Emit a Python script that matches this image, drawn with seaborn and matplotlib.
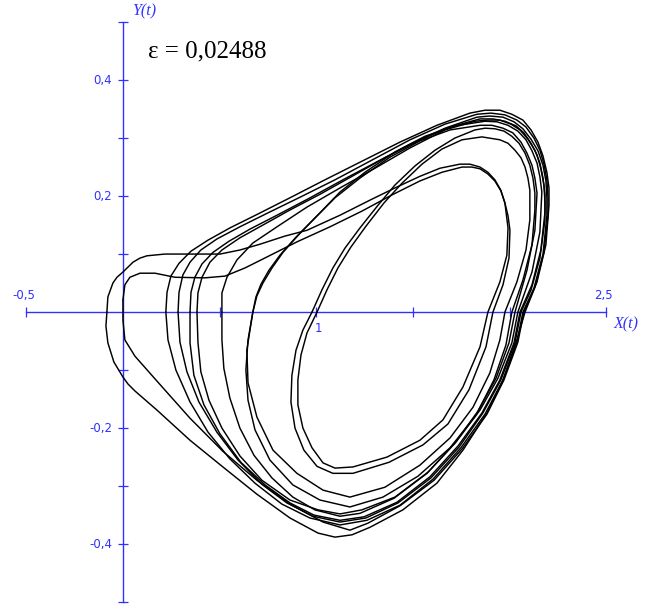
import numpy as np
import pandas as pd
import matplotlib
matplotlib.use("Agg")
import matplotlib.pyplot as plt
import seaborn as sns

# Phase trajectory X(t), Y(t), stored loop by loop (each loop starts where the previous one ends)
loop01_x = [-0.083, -0.078, -0.052, -0.031, 0.000, 0.052, 0.088, 0.124, 0.217, 0.347, 0.502, 0.605, 0.709, 0.838, 0.952,
            1.123, 1.278, 1.407, 1.536, 1.640, 1.743, 1.795, 1.847, 1.888, 1.924, 1.955, 1.976, 1.992, 1.986, 1.950, 1.888,
            1.847, 1.759, 1.655, 1.536, 1.366, 1.190, 1.097, 1.035, 0.978, 0.931, 0.905, 0.905, 0.921, 0.952, 1.004]
loop01_y = [0.000, 0.026, 0.050, 0.060, 0.069, 0.086, 0.093, 0.097, 0.100, 0.100, 0.100, 0.107, 0.117, 0.131, 0.141,
            0.167, 0.193, 0.214, 0.234, 0.248, 0.255, 0.255, 0.250, 0.241, 0.228, 0.210, 0.188, 0.145, 0.098, 0.052, 0.000,
            -0.060, -0.129, -0.186, -0.221, -0.250, -0.267, -0.269, -0.260, -0.234, -0.200, -0.160, -0.117, -0.074, -0.036, 0.000]

loop02_x = [1.004, 1.055, 1.112, 1.179, 1.257, 1.350, 1.443, 1.547, 1.650, 1.754, 1.857, 1.950, 1.992, 2.028,
            2.059, 2.080, 2.095, 2.105, 2.105, 2.085, 2.038, 1.976,
            1.950, 1.898, 1.811, 1.692, 1.536, 1.355, 1.174, 1.035, 0.900, 0.776, 0.693, 0.647, 0.641, 0.657, 0.672]
loop02_y = [0.000, 0.038, 0.076, 0.112, 0.148, 0.188, 0.222, 0.255, 0.281, 0.297, 0.302, 0.297, 0.291, 0.279,
            0.266, 0.250, 0.231, 0.210, 0.159, 0.107, 0.052, 0.000,
            -0.048, -0.105, -0.164, -0.217, -0.264, -0.302, -0.319, -0.307, -0.278, -0.238, -0.181, -0.122, -0.066, -0.031, 0.000]

loop03_x = [0.672, 0.693, 0.724, 0.771, 0.828, 0.916, 1.019, 1.123, 1.252, 1.407, 1.562, 1.717, 1.873, 1.935,
            1.992, 2.043, 2.085, 2.116, 2.142, 2.157, 2.167, 2.157, 2.116, 2.043,
            2.012, 1.940, 1.847, 1.723, 1.578, 1.407, 1.236, 1.123, 1.009, 0.864, 0.719, 0.605, 0.512,
            0.445, 0.403, 0.388, 0.383]
loop03_y = [0.000, 0.028, 0.050, 0.076, 0.103, 0.136, 0.171, 0.207, 0.241, 0.276, 0.303, 0.321, 0.329, 0.328,
            0.322, 0.312, 0.297, 0.278, 0.257, 0.233, 0.207, 0.138, 0.069, 0.000,
            -0.053, -0.114, -0.169, -0.224, -0.276, -0.319, -0.341, -0.348, -0.341, -0.324, -0.290, -0.248, -0.200,
            -0.152, -0.103, -0.052, 0.000]

loop04_x = [0.383, 0.388, 0.409, 0.450, 0.512, 0.605, 0.724, 0.864, 1.019, 1.185, 1.355, 1.526, 1.692,
            1.847, 1.914, 1.976, 2.033, 2.074, 2.111, 2.142, 2.162, 2.178, 2.183, 2.183, 2.157, 2.111, 2.059,
            2.028, 1.955, 1.862, 1.738, 1.593, 1.423, 1.257, 1.123, 0.983, 0.848, 0.719, 0.595, 0.486,
            0.393, 0.331, 0.295, 0.285]
loop04_y = [0.000, 0.033, 0.060, 0.086, 0.107, 0.128, 0.150, 0.176, 0.203, 0.234, 0.266, 0.295, 0.319,
            0.333, 0.333, 0.329, 0.321, 0.309, 0.291, 0.271, 0.247, 0.219, 0.190, 0.159, 0.093, 0.038, 0.000,
            -0.053, -0.117, -0.174, -0.233, -0.286, -0.329, -0.355, -0.362, -0.352, -0.329, -0.297, -0.255, -0.207,
            -0.155, -0.103, -0.052, 0.000]

loop05_x = [0.285, 0.290, 0.310, 0.347, 0.403, 0.486, 0.605, 0.750, 0.916, 1.097, 1.288, 1.485, 1.666,
            1.831, 1.904, 1.976, 2.038, 2.085, 2.126, 2.157, 2.178, 2.193, 2.199, 2.199, 2.178, 2.131, 2.074,
            2.043, 1.971, 1.883, 1.754, 1.609, 1.433, 1.267, 1.174, 1.035, 0.864, 0.693, 0.517, 0.347,
            0.176, 0.062, 0.010, 0.000, 0.000]
loop05_y = [0.000, 0.034, 0.064, 0.086, 0.107, 0.126, 0.147, 0.171, 0.198, 0.228, 0.262, 0.297, 0.324,
            0.341, 0.343, 0.340, 0.331, 0.319, 0.300, 0.279, 0.255, 0.228, 0.198, 0.167, 0.103, 0.043, 0.000,
            -0.052, -0.117, -0.176, -0.236, -0.290, -0.334, -0.364, -0.376, -0.362, -0.331, -0.290, -0.240, -0.183,
            -0.119, -0.076, -0.048, -0.014, 0.021]

loop06_x = [0.000, 0.010, 0.036, 0.088, 0.166, 0.269, 0.424, 0.528, 0.631, 0.745, 0.900, 1.071, 1.236,
            1.392, 1.536, 1.650, 1.754, 1.805, 1.847, 1.888, 1.924, 1.955, 1.976, 1.992, 2.002, 1.997, 1.966, 1.914,
            1.878, 1.790, 1.681, 1.552, 1.376, 1.190, 1.086, 1.004, 0.936, 0.890, 0.869, 0.874, 0.895, 0.931, 0.978]
loop06_y = [0.021, 0.047, 0.060, 0.067, 0.067, 0.060, 0.059, 0.062, 0.076, 0.095, 0.121, 0.147, 0.174,
            0.202, 0.226, 0.241, 0.250, 0.250, 0.247, 0.238, 0.226, 0.209, 0.188, 0.166, 0.141, 0.093, 0.047, 0.000,
            -0.060, -0.134, -0.193, -0.229, -0.259, -0.278, -0.278, -0.266, -0.238, -0.200, -0.155, -0.109, -0.066, -0.031, 0.000]

loop07_x = [0.978, 1.029, 1.086, 1.148, 1.226, 1.319, 1.407, 1.511, 1.614, 1.717, 1.821, 1.873, 1.924, 1.971,
            2.012, 2.049, 2.080, 2.105, 2.121, 2.131, 2.131, 2.116, 2.069, 2.012,
            1.981, 1.919, 1.826, 1.692, 1.526, 1.345, 1.174, 1.019, 0.879, 0.760, 0.683, 0.647, 0.636, 0.647, 0.672]
loop07_y = [0.000, 0.038, 0.076, 0.110, 0.145, 0.184, 0.219, 0.252, 0.279, 0.300, 0.314, 0.317, 0.316, 0.312,
            0.303, 0.291, 0.274, 0.253, 0.231, 0.205, 0.176, 0.116, 0.055, 0.000,
            -0.057, -0.117, -0.178, -0.234, -0.283, -0.319, -0.336, -0.324, -0.298, -0.255, -0.203, -0.152, -0.100, -0.048, 0.000]

loop08_x = [0.672, 0.688, 0.714, 0.755, 0.812, 0.895, 0.993, 1.097, 1.226, 1.381, 1.536, 1.692, 1.847, 1.909,
            1.966, 2.017, 2.059, 2.090, 2.116, 2.131, 2.142, 2.131, 2.090, 2.028,
            1.997, 1.930, 1.836, 1.717, 1.573, 1.402, 1.226, 1.123, 0.993, 0.879, 0.771, 0.678, 0.605,
            0.553, 0.522, 0.512, 0.512]
loop08_y = [0.000, 0.026, 0.048, 0.072, 0.098, 0.129, 0.162, 0.197, 0.231, 0.267, 0.295, 0.314, 0.322, 0.322,
            0.317, 0.309, 0.293, 0.274, 0.253, 0.231, 0.205, 0.141, 0.072, 0.000,
            -0.053, -0.114, -0.171, -0.226, -0.278, -0.321, -0.347, -0.352, -0.341, -0.319, -0.286, -0.247, -0.200,
            -0.148, -0.097, -0.048, 0.000]

loop09_x = [0.512, 0.512, 0.538, 0.590, 0.672, 0.797, 0.952, 1.123, 1.304, 1.485, 1.666, 1.821, 1.888, 1.950,
            2.007, 2.054, 2.095, 2.131, 2.157, 2.173, 2.183, 2.183, 2.162, 2.116, 2.054,
            2.023, 1.950, 1.857, 1.733, 1.588, 1.417, 1.247, 1.123, 0.988, 0.864, 0.735, 0.610, 0.502,
            0.419, 0.367, 0.347, 0.347]
loop09_y = [0.000, 0.033, 0.060, 0.090, 0.119, 0.147, 0.181, 0.214, 0.248, 0.283, 0.314, 0.329, 0.331, 0.331,
            0.324, 0.314, 0.298, 0.279, 0.257, 0.231, 0.203, 0.172, 0.107, 0.047, 0.000,
            -0.053, -0.117, -0.174, -0.231, -0.284, -0.328, -0.353, -0.359, -0.350, -0.329, -0.298, -0.259, -0.210,
            -0.160, -0.109, -0.053, 0.000]

loop10_x = [0.347, 0.352, 0.372, 0.409, 0.466, 0.548, 0.657, 0.797, 0.957, 1.138, 1.319, 1.495, 1.666,
            1.831, 1.898, 1.966, 2.023, 2.069, 2.111, 2.147, 2.173, 2.188, 2.193, 2.193, 2.173, 2.126, 2.069,
            2.038, 1.966, 1.873, 1.748, 1.604, 1.433, 1.262, 1.123, 0.967, 0.822, 0.683, 0.553, 0.440,
            0.347, 0.274, 0.233, 0.222]
loop10_y = [0.000, 0.034, 0.060, 0.083, 0.103, 0.122, 0.143, 0.167, 0.195, 0.228, 0.260, 0.291, 0.317,
            0.336, 0.338, 0.336, 0.328, 0.316, 0.298, 0.278, 0.253, 0.226, 0.197, 0.166, 0.100, 0.041, 0.000,
            -0.052, -0.117, -0.176, -0.234, -0.288, -0.333, -0.359, -0.367, -0.355, -0.331, -0.295, -0.253, -0.207,
            -0.155, -0.100, -0.048, 0.000]

loop11_x = [0.222, 0.228, 0.248, 0.290, 0.352, 0.440, 0.553, 0.698, 0.864, 1.045, 1.236, 1.433, 1.624,
            1.795, 1.873, 1.950, 2.012, 2.069, 2.111, 2.147, 2.173, 2.193, 2.204, 2.204, 2.188, 2.142, 2.080,
            2.038, 1.966, 1.883, 1.759, 1.624, 1.448, 1.278, 1.185, 1.097, 1.009, 0.864, 0.693, 0.517, 0.347,
            0.176, 0.062, 0.026, 0.000, -0.047, -0.078, -0.088, -0.083]
loop11_y = [0.000, 0.034, 0.062, 0.084, 0.105, 0.124, 0.145, 0.169, 0.197, 0.228, 0.260, 0.293, 0.322,
            0.343, 0.348, 0.348, 0.341, 0.331, 0.314, 0.293, 0.269, 0.241, 0.214, 0.184, 0.116, 0.052, 0.000,
            -0.048, -0.117, -0.174, -0.238, -0.295, -0.341, -0.371, -0.384, -0.388, -0.381, -0.355, -0.314, -0.267, -0.221,
            -0.169, -0.136, -0.124, -0.112, -0.086, -0.053, -0.024, 0.000]

LOOPS = [(loop01_x, loop01_y), (loop02_x, loop02_y), (loop03_x, loop03_y), (loop04_x, loop04_y),
         (loop05_x, loop05_y), (loop06_x, loop06_y), (loop07_x, loop07_y), (loop08_x, loop08_y),
         (loop09_x, loop09_y), (loop10_x, loop10_y), (loop11_x, loop11_y)]

# Axis ticks and labels
x_ticks = [-0.5, 0.5, 1.0, 1.5, 2.0, 2.5]
y_ticks = [-0.5, -0.4, -0.3, -0.2, -0.1, 0.1, 0.2, 0.3, 0.4, 0.5]
y_label_values = [0.4, 0.2, -0.2, -0.4]
y_label_text = ["0,4", "0,2", "-0,2", "-0,4"]
x_label_values = [-0.5, 1.0, 2.5]
x_label_text = ["-0,5", "1", "2,5"]
x_label_side = [1, -1, 1]      # +1: above the axis, -1: below
eps_text = "ε = 0,02488"

AXIS_BLUE = "#3030ff"

sns.set_style("white")
plt.rcParams["font.family"] = ["DejaVu Sans"]

fig = plt.figure(figsize=(6.53, 6.05), dpi=100)
ax = fig.add_axes([0, 0, 1, 1])

frames = []
for i, (xs, ys) in enumerate(LOOPS):
    d = pd.DataFrame({"x": xs, "y": ys})
    d["loop"] = i
    frames.append(d)
traj = pd.concat(frames, ignore_index=True)

sns.lineplot(data=traj, x="x", y="y", units="loop", estimator=None, sort=False,
             color="black", linewidth=1.05, ax=ax, legend=False)

ax.set_xlim(-0.636, 2.742)
ax.set_ylim(-0.505, 0.538)
ax.set_xlabel("")
ax.set_ylabel("")

for s in ("top", "right"):
    ax.spines[s].set_visible(False)
ax.spines["left"].set_position(("data", 0))
ax.spines["bottom"].set_position(("data", 0))
ax.spines["left"].set_bounds(-0.5, 0.5)
ax.spines["bottom"].set_bounds(-0.5, 2.5)
for s in ("left", "bottom"):
    ax.spines[s].set_color(AXIS_BLUE)
    ax.spines[s].set_linewidth(1.0)
    ax.spines[s].set_zorder(1)

ax.set_xticks(x_ticks)
ax.set_yticks(y_ticks)
ax.tick_params(bottom=True, left=True, direction="inout", length=7, width=0.9, color=AXIS_BLUE,
               labelbottom=False, labelleft=False)

for v, t in zip(y_label_values, y_label_text):
    ax.text(-0.055, v, t, ha="right", va="center", color=AXIS_BLUE, fontsize=8.5)
for v, t, side in zip(x_label_values, x_label_text, x_label_side):
    ax.text(v - (0.012 if side > 0 else -0.01), 0.028 * side, t, ha="center", va="center",
            color=AXIS_BLUE, fontsize=8.5)

serif = ["Liberation Serif", "DejaVu Serif"]
ax.text(0.047, 0.519, "Y(t)", ha="left", va="center", color=AXIS_BLUE,
        family=serif, style="italic", fontsize=11.5)
ax.text(2.602, -0.022, "X(t)", ha="center", va="center", color=AXIS_BLUE,
        family=serif, style="italic", fontsize=11.5)
ax.text(0.129, 0.439, eps_text, ha="left", va="baseline", color="black",
        family=serif, fontsize=18)

fig.savefig("out.png", dpi=100)
